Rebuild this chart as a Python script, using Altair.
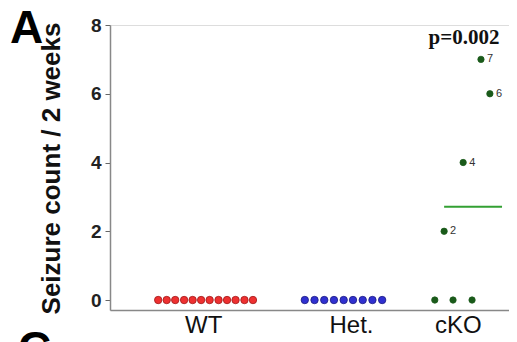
import altair as alt
import pandas as pd

# group label positions (x units) and names
group_names = ["WT", "Het.", "cKO"]
group_pos = [2.30, 5.95, 8.59]

# individual animals: x position (units), seizure count
wt_x = [1.19, 1.40, 1.61, 1.83, 2.04, 2.25, 2.46, 2.68, 2.89, 3.10, 3.32, 3.53]
wt_y = [0] * 12
het_x = [4.81, 5.05, 5.29, 5.53, 5.77, 6.00, 6.24, 6.48, 6.72]
het_y = [0] * 9
cko_x = [8.02, 8.47, 8.94, 8.25, 8.72, 9.38, 9.16]
cko_y = [0, 0, 0, 2, 4, 6, 7]
cko_lbl = ["", "", "", "2", "4", "6", "7"]

# mean line for cKO
mean_x = [8.25, 9.68]
mean_val = sum(cko_y) / len(cko_y)

# p-value annotation
p_text = "p=0.002"
p_x = 8.74
p_y = 7.62

rows = []
for x, y in zip(wt_x, wt_y):
    rows.append({"x": x, "y": y, "g": "WT", "lbl": ""})
for x, y in zip(het_x, het_y):
    rows.append({"x": x, "y": y, "g": "Het.", "lbl": ""})
for x, y, l in zip(cko_x, cko_y, cko_lbl):
    rows.append({"x": x, "y": y, "g": "cKO", "lbl": l})
df = pd.DataFrame(rows)

xscale = alt.Scale(domain=[0, 9.852], nice=False, zero=False)
yscale = alt.Scale(domain=[-0.29, 8], nice=False, zero=False)

label_expr = "datum.value < 4 ? 'WT' : (datum.value < 7.5 ? 'Het.' : 'cKO')"

x_enc = alt.X("x:Q", scale=xscale, axis=alt.Axis(
    values=group_pos, labelExpr=label_expr, ticks=False, grid=False,
    domainColor="#888888", domainWidth=1.5, labelFontSize=24, labelFont="Liberation Sans",
    labelColor="#111111", labelPadding=3, labelBaseline="top", title=None))
y_enc = alt.Y("y:Q", scale=yscale, axis=alt.Axis(
    values=[0, 2, 4, 6, 8], grid=False, domainColor="#888888", domainWidth=1.5,
    tickColor="#666666", tickSize=5, labelFontSize=19, labelFontWeight="bold",
    labelFont="Liberation Sans", labelColor="#222222", labelPadding=4,
    title="Seizure count / 2 weeks", titleFontSize=26, titleFontWeight="bold",
    titleFont="Liberation Sans", titleColor="#111111", titleAngle=-90,
    titleX=-51, titleY=143, titleAlign="center", titleBaseline="alphabetic"))

color_scale = alt.Scale(domain=["WT", "Het.", "cKO"], range=["#ee3030", "#3030d0", "#1a5a1a"])
stroke_scale = alt.Scale(domain=["WT", "Het.", "cKO"], range=["#a01818", "#1a1a80", "#1a5a1a"])

points = alt.Chart(df).mark_point(filled=True, opacity=1, strokeWidth=0.8).encode(
    x=x_enc, y=y_enc,
    fill=alt.Fill("g:N", scale=color_scale, legend=None),
    stroke=alt.Stroke("g:N", scale=stroke_scale, legend=None),
    size=alt.condition("datum.g == 'cKO'", alt.value(40), alt.value(55)),
)

labels = alt.Chart(df).mark_text(align="left", baseline="middle", dx=6, fontSize=11,
                                 font="Liberation Sans", color="#333333").encode(
    x="x:Q", y="y:Q", text="lbl:N")

mean_df = pd.DataFrame({"x": [mean_x[0]], "x2": [mean_x[1]], "y": [mean_val]})
mean_line = alt.Chart(mean_df).mark_rule(color="#33a033", strokeWidth=2).encode(
    x="x:Q", x2="x2:Q", y="y:Q")

p_df = pd.DataFrame({"x": [p_x], "y": [p_y], "t": [p_text]})
p_mark = alt.Chart(p_df).mark_text(font="Liberation Serif", fontWeight="bold", fontSize=21,
                                   color="#111111", align="center", baseline="middle").encode(
    x="x:Q", y="y:Q", text="t:N")

a_mark = alt.Chart(pd.DataFrame({"t": ["A"]})).mark_text(
    font="Liberation Sans", fontWeight="bold", fontSize=46, color="#000000",
    align="left", baseline="alphabetic").encode(
    x=alt.value(-100), y=alt.value(18), text="t:N")

c_mark = alt.Chart(pd.DataFrame({"t": ["C"]})).mark_text(
    font="Liberation Sans", fontWeight="bold", fontSize=46, color="#000000",
    align="left", baseline="top").encode(
    x=alt.value(-92), y=alt.value(303), text="t:N")

chart = alt.layer(points, labels, mean_line, p_mark, a_mark, c_mark).properties(
    width=399, height=285,
    autosize=alt.AutoSizeParams(type="none"),
    padding={"left": 102, "top": 17, "right": 0, "bottom": 40},
).configure_view(stroke="#888888", strokeWidth=1.5).configure(background="white")

chart.save("out.html", embed_options={"renderer": "svg", "actions": False})
